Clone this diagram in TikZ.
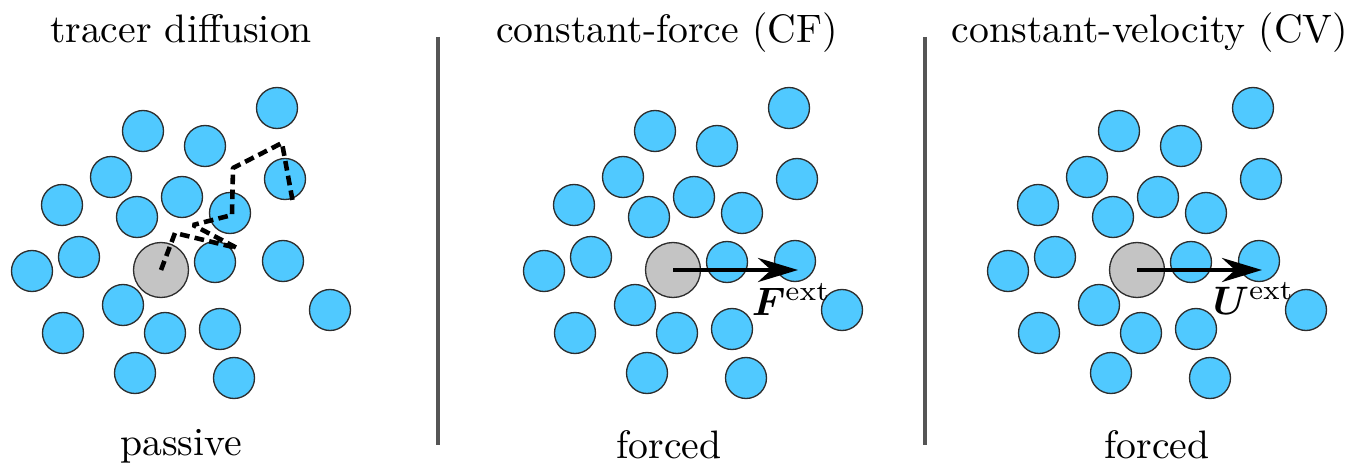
\documentclass[tikz,border=0pt]{standalone}
\usepackage{amsmath}
\usepackage{bm}
\usetikzlibrary{arrows.meta, positioning}
\definecolor{bathblue}{RGB}{80,201,255}
\definecolor{tracergray}{RGB}{196,196,196}
\definecolor{rimgray}{RGB}{45,45,45}
\definecolor{sepgray}{RGB}{85,85,85}
\tikzset{
  bath/.style   ={circle, draw=rimgray, fill=bathblue, line width=0.75pt,
                  minimum size=0.82cm, inner sep=0pt},
  tracer/.style ={circle, draw=rimgray, fill=tracergray, line width=0.75pt,
                  minimum size=1.1cm, inner sep=0pt},
  walk/.style   ={line width=2.6pt, dash pattern=on 5.5pt off 3pt, line join=bevel},
  push/.style   ={-{Stealth[length=8mm, width=4.8mm, inset=2.6mm]}, line width=2.5pt},
  sep/.style    ={draw=sepgray, line width=2.3pt},
  lbl/.style    ={font=\fontsize{10}{12}\selectfont, inner sep=0pt,
                  scale=2.26, transform shape},
}
% one crowd of bath particles plus the tracer: #1 name prefix, #2 x shift
\newcommand{\crowd}[2]{%
  \foreach \x/\y [count=\i] in {277/108, 143/131, 205/146, 111/177, 285/179,
      62/205, 182/197, 137/217, 230/213, 79/257, 32/271, 215/262, 283/261,
      330/310, 123/305, 63/333, 165/333, 220/329, 135/373, 234/378}
    \node[bath] (#1-b\i) at ({\x+#2},\y) {};
  \node[tracer] (#1-tr) at ({161+#2},270) {};
}

\begin{document}
\begin{tikzpicture}[x=0.02cm, y=-0.02cm]
  \useasboundingbox (0,0) rectangle (1356,466);

  % tracer diffusion
  \crowd{td}{0}
  \coordinate (w1) at (175,233);
  \coordinate (w2) at (237,248);
  \coordinate (w3) at (193,225);
  \coordinate (w4) at (232,215);
  \coordinate (w5) at (233,168);
  \coordinate (w6) at (282,143);
  \coordinate (w7) at (293,203);
  \draw[walk] (td-tr.center) -- (w1) -- (w2) -- (w3) -- (w4) -- (w5) -- (w6) -- (w7);
  \node[lbl, anchor=base] (td-title) at (181,43) {tracer diffusion};
  \node[lbl, anchor=base] (td-kind)  at (181,455) {passive};

  % constant force
  \crowd{cf}{512}
  \coordinate (cf-tip) at (798,270);
  \draw[push] (cf-tr.center) -- (cf-tip);
  \node[lbl, anchor=base west] (cf-vec) at (751,315) {$\bm{F}^{\mathrm{ext}}$};
  \node[lbl, anchor=base] (cf-title) at (667,43) {constant-force (CF)};
  \node[lbl, anchor=base] (cf-kind)  at (669,458) {forced};

  % constant velocity
  \crowd{cv}{976}
  \coordinate (cv-tip) at (1262,270);
  \draw[push] (cv-tr.center) -- (cv-tip);
  \node[lbl, anchor=base west] (cv-vec) at (1212,314) {$\bm{U}^{\mathrm{ext}}$};
  \node[lbl, anchor=base] (cv-title) at (1150,43) {constant-velocity (CV)};
  \node[lbl, anchor=base] (cv-kind)  at (1157,458) {forced};

  % separators
  \coordinate (s1a) at (438,37);  \coordinate (s1b) at (438,445);
  \coordinate (s2a) at (925,37);  \coordinate (s2b) at (925,445);
  \draw[sep] (s1a) -- (s1b);
  \draw[sep] (s2a) -- (s2b);
\end{tikzpicture}
\end{document}
